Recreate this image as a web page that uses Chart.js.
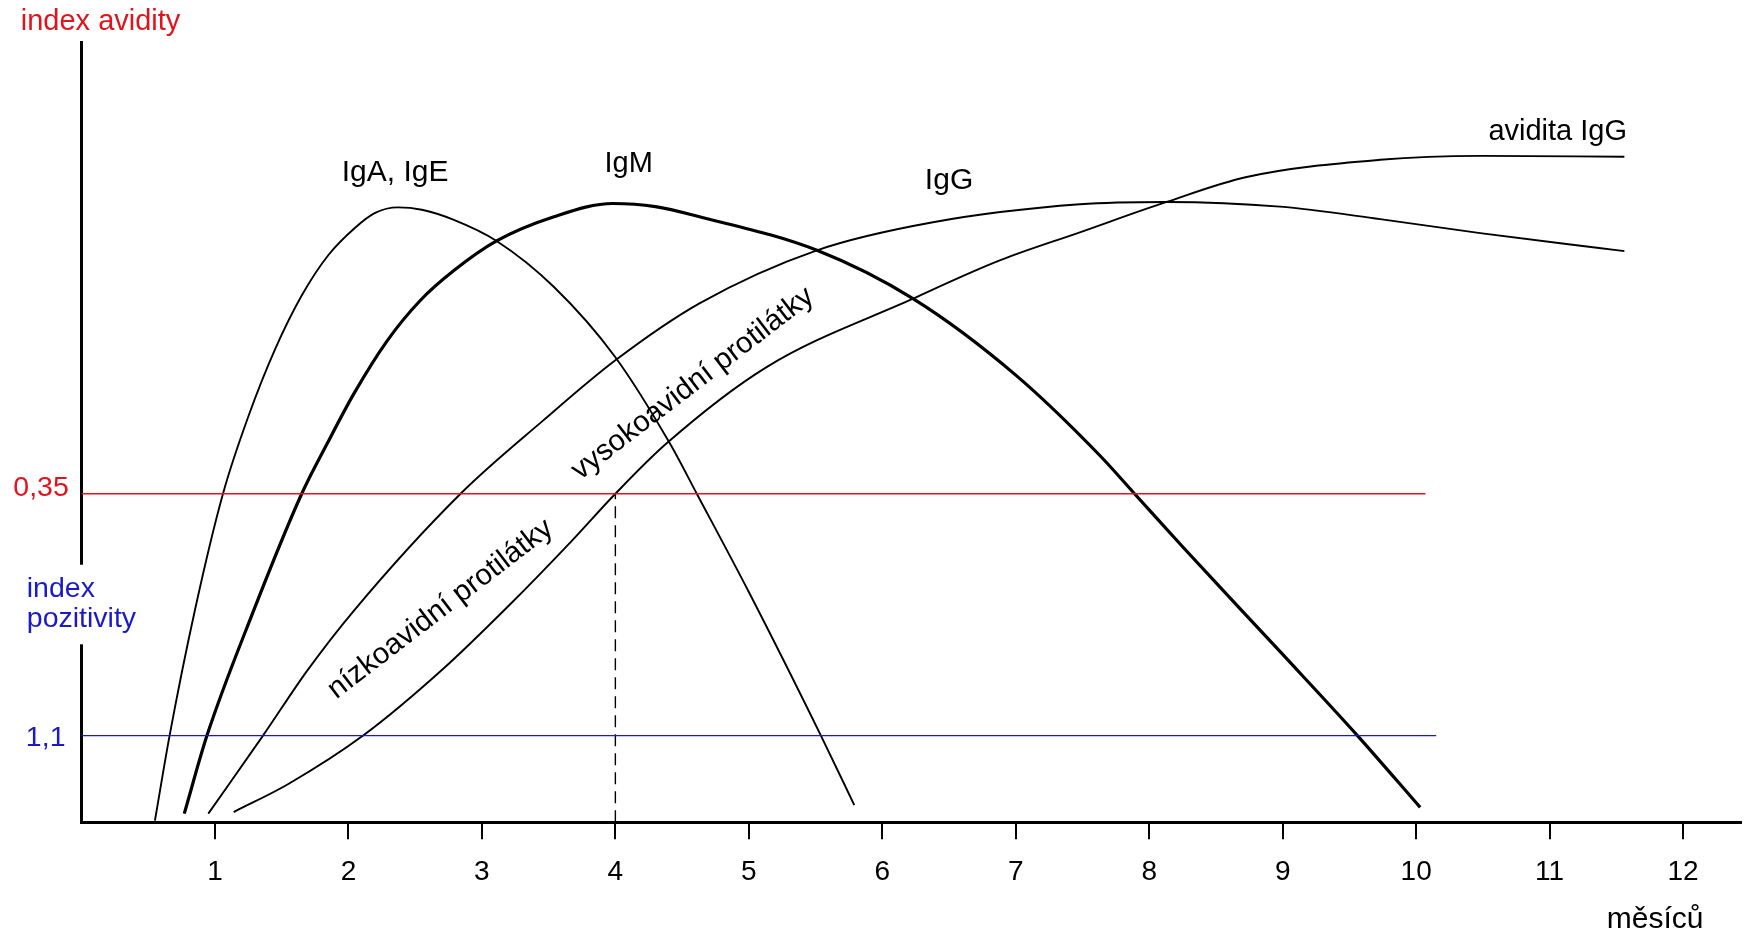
<!DOCTYPE html>
<html>
<head>
<meta charset="utf-8">
<script src="https://cdn.jsdelivr.net/npm/chart.js@4.4.0/dist/chart.umd.min.js"></script>
<style>
  html, body { margin: 0; padding: 0; background: #fff; }
  #wrap { width: 1745px; height: 934px; }
</style>
</head>
<body>
<div id="wrap"><canvas id="c" width="1745" height="934"></canvas></div>
<script>
// ---- data (months after infection, relative level 0-100) ----
const igaMonths = [0.55, 0.66, 0.85, 1.06, 1.25, 1.45, 1.65, 1.85, 2.05, 2.20, 2.37, 2.55, 2.79, 3.11, 3.54, 4.00, 4.41, 4.61, 5.00, 5.54, 5.79];
const igaLevels = [0.2, 11.1, 27.2, 42.1, 52.0, 60.6, 67.5, 72.7, 76.2, 78.1, 78.8, 78.5, 77.2, 74.5, 68.6, 59.6, 48.5, 42.1, 29.5, 11.1, 2.2];

const igmMonths = [0.77, 0.94, 1.28, 1.65, 1.84, 2.04, 2.29, 2.54, 2.79, 3.11, 3.54, 3.98, 4.30, 4.63, 5.51, 6.23, 7.00, 7.63, 7.89, 8.25, 9.00, 9.56, 10.03];
const igmLevels = [1.1, 11.1, 26.7, 42.1, 48.5, 54.9, 61.7, 66.9, 70.7, 74.5, 77.6, 79.3, 78.9, 77.6, 73.3, 67.1, 57.3, 47.0, 42.1, 35.3, 21.5, 11.1, 1.9];

const iggMonths = [0.95, 1.36, 1.69, 2.04, 2.84, 3.46, 4.00, 4.63, 5.51, 6.38, 7.48, 8.13, 8.98, 9.73, 10.48, 11.37, 11.56];
const iggLevels = [1.1, 11.1, 19.4, 27.1, 42.1, 51.5, 59.2, 66.5, 73.3, 76.9, 79.2, 79.5, 78.9, 77.3, 75.5, 73.6, 73.2];

const avidityMonths = [1.14, 1.55, 2.11, 2.70, 3.21, 3.67, 4.00, 4.38, 5.13, 6.23, 6.88, 7.48, 8.13, 8.73, 9.73, 10.48, 11.56];
const avidityLevels = [1.3, 4.9, 11.1, 19.5, 27.9, 36.0, 42.1, 48.5, 58.3, 67.1, 72.0, 75.6, 79.5, 82.7, 84.9, 85.4, 85.3];

const thresholdNames  = ['0,35', '1,1'];
const thresholdLevels = [42.1, 11.1];
const thresholdEnds   = [10.07, 10.15];
const avidityCutMonth = 4.0;

const tickMonths = [1, 2, 3, 4, 5, 6, 7, 8, 9, 10, 11, 12];
const tickLabels = ['1', '2', '3', '4', '5', '6', '7', '8', '9', '10', '11', '12'];

// ---- helpers ----
const pts = (xs, ys) => xs.map((x, i) => ({ x: x, y: ys[i] }));
const FONT = "'Liberation Sans', Arial, Helvetica, sans-serif";
const RED = '#e0141c', BLUE = '#1a1ac8';

// label placement (data coordinates) and styles
const annotations = [
  { text: 'IgA, IgE', x: 2.35, y: 82.2, align: 'center', color: '#000', size: 30 },
  { text: 'IgM', x: 4.10, y: 83.3, align: 'center', color: '#000', size: 29 },
  { text: 'IgG', x: 6.50, y: 81.1, align: 'center', color: '#000', size: 30 },
  { text: 'avidita IgG', x: 11.58, y: 87.4, align: 'right', color: '#000', size: 29 },
  { text: 'index avidity', x: -0.455, y: 101.5, align: 'left', color: RED, size: 29 },
  { text: thresholdNames[0], x: -0.095, y: 41.8, align: 'right', color: RED, size: 28.5 },
  { text: thresholdNames[1], x: -0.12, y: 9.8, align: 'right', color: BLUE, size: 28.5 },
  { text: 'index', x: -0.41, y: 28.9, align: 'left', color: BLUE, size: 28.5 },
  { text: 'pozitivity', x: -0.41, y: 25.0, align: 'left', color: BLUE, size: 28.5 },
  { text: 'měsíců', x: 11.79, y: -13.6, align: 'center', color: '#000', size: 30 },
  { text: 'nízkoavidní protilátky', x: 2.69, y: 27.3, align: 'center', color: '#000', size: 29.5, rot: -37.5, mid: true },
  { text: 'vysokoavidní protilátky', x: 4.58, y: 56.2, align: 'center', color: '#000', size: 29.5, rot: -37.5, mid: true }
];

const labelPlugin = {
  id: 'labels',
  afterDraw(chart) {
    const ctx = chart.ctx;
    const xs = chart.scales.x, ys = chart.scales.y;
    ctx.save();
    // white box behind "index pozitivity" interrupting the y axis
    const bx1 = xs.getPixelForValue(-0.45), bx2 = xs.getPixelForValue(0.45);
    const by1 = ys.getPixelForValue(33.0), by2 = ys.getPixelForValue(22.8);
    ctx.fillStyle = '#fff';
    ctx.fillRect(bx1, by1, bx2 - bx1, by2 - by1);
    annotations.forEach(a => {
      const px = xs.getPixelForValue(a.x), py = ys.getPixelForValue(a.y);
      ctx.save();
      ctx.translate(px, py);
      if (a.rot) ctx.rotate(a.rot * Math.PI / 180);
      ctx.font = a.size + 'px ' + FONT;
      ctx.fillStyle = a.color;
      ctx.textAlign = a.align;
      ctx.textBaseline = a.mid ? 'middle' : 'alphabetic';
      ctx.fillText(a.text, 0, 0);
      ctx.restore();
    });
    ctx.restore();
  }
};

const curve = (label, xs, ys, width) => ({
  label: label,
  data: pts(xs, ys),
  showLine: true,
  borderColor: '#000',
  borderWidth: width,
  pointRadius: 0,
  fill: false,
  cubicInterpolationMode: 'monotone',
  borderJoinStyle: 'round',
  borderCapStyle: 'butt'
});

const datasets = [
  {
    label: 'index avidity 0,35',
    data: [{ x: 0, y: thresholdLevels[0] }, { x: thresholdEnds[0], y: thresholdLevels[0] }],
    showLine: true, borderColor: RED, borderWidth: 1.4, pointRadius: 0
  },
  {
    label: 'index pozitivity 1,1',
    data: [{ x: 0, y: thresholdLevels[1] }, { x: thresholdEnds[1], y: thresholdLevels[1] }],
    showLine: true, borderColor: BLUE, borderWidth: 1.4, pointRadius: 0
  },
  {
    label: 'avidity cut',
    data: [{ x: avidityCutMonth, y: 0 }, { x: avidityCutMonth, y: thresholdLevels[0] }],
    showLine: true, borderColor: '#000', borderWidth: 1.4, borderDash: [12, 7], pointRadius: 0
  },
  curve('IgA, IgE', igaMonths, igaLevels, 1.9),
  curve('IgM', igmMonths, igmLevels, 3.2),
  curve('IgG', iggMonths, iggLevels, 1.9),
  curve('avidita IgG', avidityMonths, avidityLevels, 1.9)
];

Chart.defaults.font.family = FONT;

new Chart(document.getElementById('c'), {
  type: 'scatter',
  data: { datasets: datasets },
  options: {
    responsive: false,
    devicePixelRatio: 1,
    animation: false,
    layout: { padding: { left: 81.5, right: 4.5, top: 42, bottom: 29.2 } },
    plugins: { legend: { display: false }, tooltip: { enabled: false } },
    scales: {
      x: {
        type: 'linear',
        position: 'bottom',
        min: 0,
        max: 12.43,
        afterBuildTicks: (s) => { s.ticks = tickMonths.map(v => ({ value: v })); },
        ticks: {
          color: '#000',
          font: { size: 28, family: FONT },
          padding: 16,
          maxRotation: 0,
          autoSkip: false,
          callback: (v, i) => tickLabels[i]
        },
        grid: { display: true, drawOnChartArea: false, drawTicks: true, tickLength: 17, color: '#000', lineWidth: 2 },
        border: { display: true, color: '#000', width: 3 }
      },
      y: {
        type: 'linear',
        position: 'left',
        min: 0,
        max: 100,
        ticks: { display: false },
        grid: { display: false, drawTicks: false },
        border: { display: true, color: '#000', width: 3 }
      }
    }
  },
  plugins: [labelPlugin]
});
</script>
</body>
</html>
